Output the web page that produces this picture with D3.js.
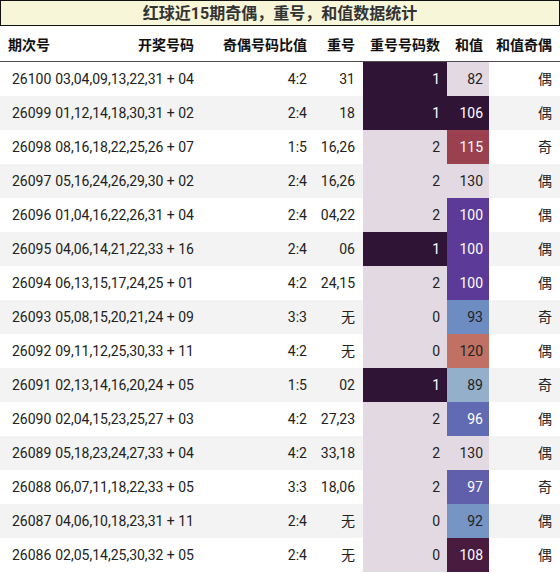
<!DOCTYPE html>
<html><head><meta charset="utf-8">
<script src="https://cdn.jsdelivr.net/npm/d3@7"></script>
<style>body{margin:0;background:#fff}text{font-family:Roboto,"Noto Sans CJK SC",sans-serif}</style>
</head><body><svg id="c" width="560" height="573"></svg>
<script>
const title = "红球近15期奇偶，重号，和值数据统计";
const headers = ["期次号","开奖号码","奇偶号码比值","重号","重号号码数","和值","和值奇偶"];
const periods = ["26100","26099","26098","26097","26096","26095","26094","26093","26092","26091","26090","26089","26088","26087","26086"];
const draws = ["03,04,09,13,22,31 + 04","01,12,14,18,30,31 + 02","08,16,18,22,25,26 + 07","05,16,24,26,29,30 + 02","01,04,16,22,26,31 + 04","04,06,14,21,22,33 + 16","06,13,15,17,24,25 + 01","05,08,15,20,21,24 + 09","09,11,12,25,30,33 + 11","02,13,14,16,20,24 + 05","02,04,15,23,25,27 + 03","05,18,23,24,27,33 + 04","06,07,11,18,22,33 + 05","04,06,10,18,23,31 + 11","02,05,14,25,30,32 + 05"];
const ratios = ["4:2","2:4","1:5","2:4","2:4","2:4","4:2","3:3","4:2","1:5","4:2","4:2","3:3","2:4","2:4"];
const repeats = ["31","18","16,26","16,26","04,22","06","24,15","无","无","02","27,23","33,18","18,06","无","无"];
const repeatCounts = [1,1,2,2,2,1,2,0,0,1,2,2,2,0,0];
const sums = [82,106,115,130,100,100,100,93,120,89,96,130,97,92,108];
const parity = ["偶","偶","奇","偶","偶","偶","偶","奇","偶","奇","偶","偶","奇","偶","偶"];

const twilight = d3.scaleLinear()
  .domain([0,0.125,0.25,0.375,0.5,0.625,0.75,0.875,1])
  .range(["#e2d9e2","#9cb8cc","#6383c0","#5b3a98","#2f1436","#7e2850","#b8584e","#d3a48c","#e2d9e2"])
  .interpolate(d3.interpolateRgb);
const cntColor = v => twilight(d3.scaleLinear().domain([0,2])(v));
const sumScale = d3.scaleLinear().domain([d3.min(sums), d3.max(sums)]);
const sumColor = v => twilight(sumScale(v));
const txtCol = c => d3.hsl(c).l < 0.55 ? "#fff" : "#222";

const svg = d3.select("#c");
svg.append("rect").attr("x",0.5).attr("y",0.5).attr("width",559).attr("height",25).attr("fill","#f8f6d9").attr("stroke","#111");
svg.append("text").attr("x",280).attr("y",19).attr("text-anchor","middle").attr("font-size",16).attr("font-weight","bold").attr("fill","#333").text(title);

const y = d3.scaleBand().domain(d3.range(periods.length)).range([62,572]);
const colRight = [null,194,307,355,440,483,552];
headers.forEach((h,i)=>{
  svg.append("text").attr("x", i===0?8:colRight[i]).attr("y",50).attr("text-anchor",i===0?"start":"end")
    .attr("font-size",14).attr("font-weight","bold").attr("fill","#111").text(h);
});
svg.append("line").attr("x1",0).attr("x2",560).attr("y1",62).attr("y2",62).attr("stroke","#111").attr("stroke-width",1.5);

const rows = svg.selectAll("g.r").data(periods).join("g").attr("transform",(d,i)=>`translate(0,${y(i)})`);
const h = y.bandwidth();
rows.append("rect").attr("width",560).attr("height",h).attr("fill",(d,i)=>i%2?"#f3f3f3":"#fff");
rows.append("rect").attr("x",363).attr("width",84).attr("height",h).attr("fill",(d,i)=>cntColor(repeatCounts[i]));
rows.append("rect").attr("x",447).attr("width",42).attr("height",h).attr("fill",(d,i)=>sumColor(sums[i]));
const cell = (x, anchor, f, col) => rows.append("text").attr("x",x).attr("y",h/2+5).attr("text-anchor",anchor).attr("font-size",14).attr("fill",col||"#222").text(f);
cell(12,"start",(d)=>d);
cell(194,"end",(d,i)=>draws[i]);
cell(307,"end",(d,i)=>ratios[i]);
cell(355,"end",(d,i)=>repeats[i]);
rows.append("text").attr("x",440).attr("y",h/2+5).attr("text-anchor","end").attr("font-size",14).attr("fill",(d,i)=>txtCol(cntColor(repeatCounts[i]))).text((d,i)=>repeatCounts[i]);
rows.append("text").attr("x",483).attr("y",h/2+5).attr("text-anchor","end").attr("font-size",14).attr("fill",(d,i)=>txtCol(sumColor(sums[i]))).text((d,i)=>sums[i]);
cell(552,"end",(d,i)=>parity[i]);
</script></body></html>
